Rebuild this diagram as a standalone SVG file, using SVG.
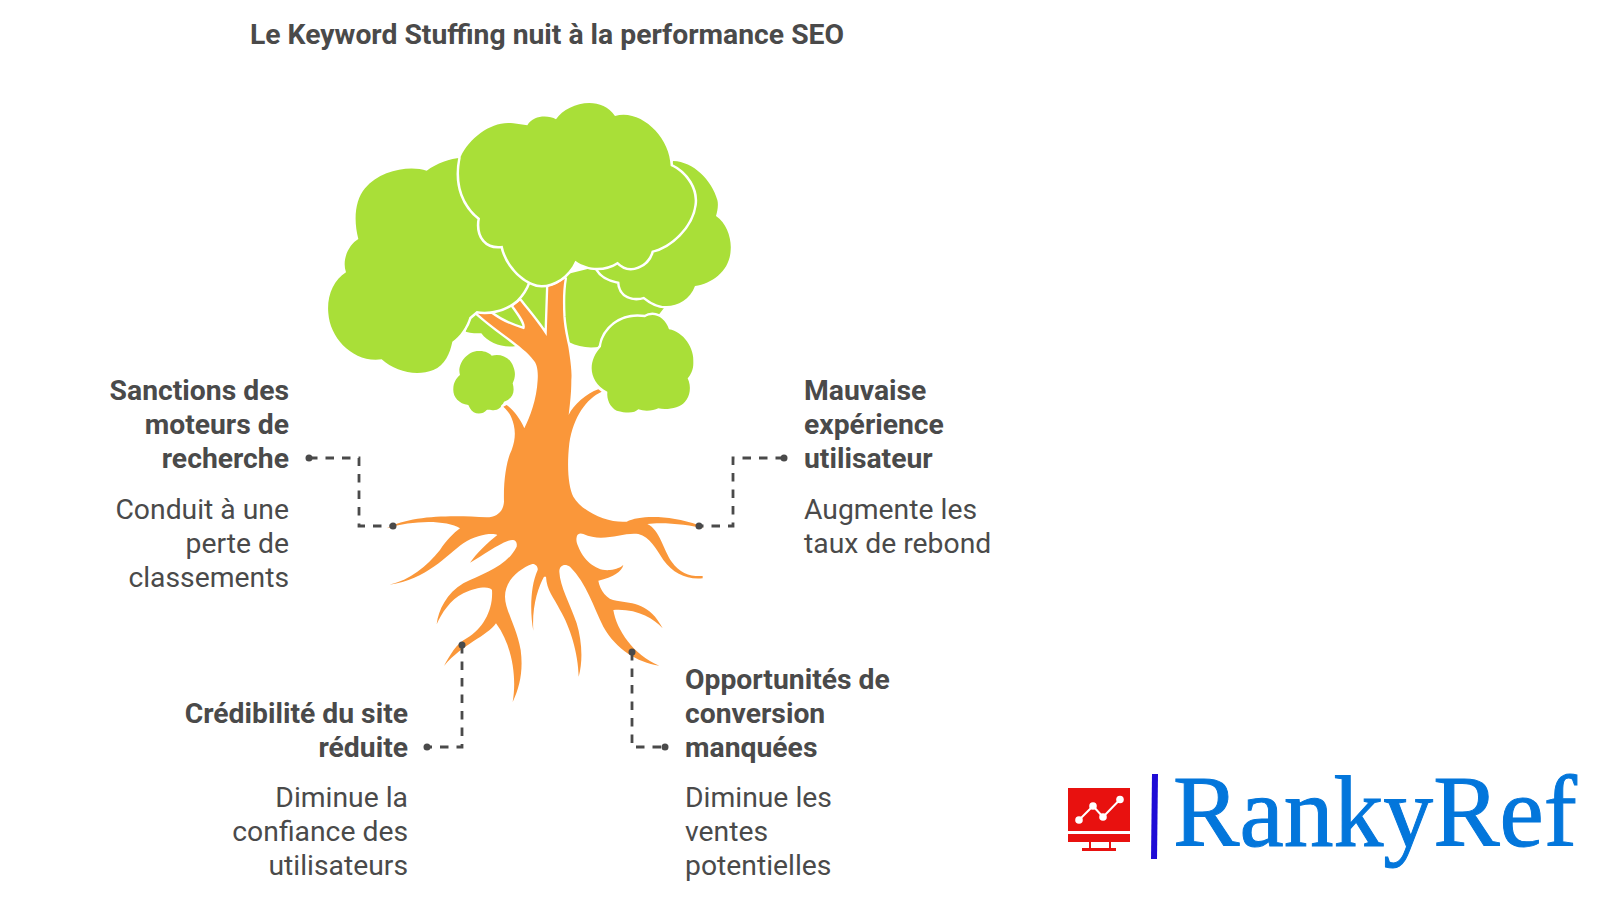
<svg xmlns="http://www.w3.org/2000/svg" width="1600" height="900" viewBox="0 0 1600 900">
<style>
text{font-family:Roboto,"Liberation Sans",sans-serif;fill:#4a4a4a}
.t{font-weight:700;font-size:28.300px}
.d{font-weight:400;font-size:28.300px}
.title{font-weight:700;font-size:28.300px}
.e{text-anchor:end}
.leaf{fill:#a9df38;stroke:#fff;stroke-width:15;paint-order:stroke;stroke-linejoin:round}
.c{fill:none;stroke:#4a4a4a;stroke-width:2.800;stroke-dasharray:8.500 8}
.dot{fill:#4a4a4a}
</style>
<rect width="1600" height="900" fill="#fff"/>
<text id="title" class="title" x="250" y="44">Le Keyword Stuffing nuit à la performance SEO</text>

<g id="tree">
<g id="canopy-back" transform="translate(300 90) scale(.33333)">
<path fill="#a9df38" d="M497,725 L510,680 L690,580 L890,530 L1095,650 L1078,672 L1000,680 L900,770 C870,775 835,772 808,757 L648,768 C610,775 565,760 544,730 C530,730 515,730 497,725 Z"/>
<path class="leaf" d="M540,783 C555,783 570,790 575,797 C600,790 630,800 640,830 C648,850 645,865 638,880 C645,905 640,925 612,935 C608,945 600,958 585,960 C572,962 565,958 560,960 C548,975 520,975 510,955 L505,945 C475,940 458,920 460,895 C460,880 468,865 480,855 C470,825 500,780 540,783 Z" style="stroke:none"/>
<path class="leaf" d="M903,770 C910,720 960,670 1035,682 C1060,665 1095,680 1107,718 C1150,725 1185,775 1180,820 C1180,840 1172,855 1163,865 C1175,890 1170,920 1155,935 C1140,955 1100,960 1075,955 C1060,962 1035,965 1015,958 C1005,968 985,972 950,962 C930,950 920,930 922,905 C890,890 875,860 875,835 C875,810 885,790 903,770 Z"/>
</g>
<g id="trunk" transform="translate(370 380) scale(.33333)">
<path id="trunk-shape" fill="#fa973a" stroke="#fff" stroke-width="14" paint-order="stroke" stroke-linejoin="round" d="M320,-202 L365,-198 C390,-180 420,-165 462,-152 C472,-165 450,-195 430,-222 L450,-238 C480,-200 510,-165 530,-132 L535,-280 L540,-282 C555,-285 570,-295 584,-304 C578,-270 578,-230 580,-190 C583,-150 590,-125 595,-100 C603,-50 606,-20 604,0 C604,40 600,70 596,105 C610,75 650,40 685,28 L695,35 C650,55 610,110 598,190 C590,260 595,320 610,350 C640,400 720,430 770,425 C810,405 900,405 985,435 L1000,445 C960,435 880,425 832,432 C870,450 880,510 905,545 C930,580 960,590 998,588 L998,595 C950,600 910,580 880,540 C860,510 840,470 805,462 C760,455 700,490 640,462 C630,458 620,462 620,472 C618,480 620,490 625,500 C640,540 680,575 720,570 C740,568 752,562 760,555 C755,575 730,592 685,602 C690,630 710,660 740,662 C790,670 840,670 878,745 C850,715 800,685 730,690 C740,750 790,825 868,857 C800,845 740,810 700,740 C670,680 650,610 600,560 C585,550 568,555 568,575 C570,620 600,670 620,730 C635,780 640,840 626,890 C625,820 600,740 570,690 C550,650 530,630 528,590 L522,590 C505,620 485,680 490,752 C480,700 480,620 503,570 C505,560 495,550 487,552 C450,565 405,600 405,650 C405,690 440,740 452,810 C460,870 450,920 428,966 C440,900 430,800 378,730 C350,770 280,790 222,858 C240,825 260,790 290,775 C340,745 370,690 366,630 C360,618 320,620 280,640 C240,660 215,700 200,733 C205,690 230,640 280,610 C340,580 410,560 440,500 C443,480 430,477 415,482 C380,495 340,525 300,548 C320,520 350,490 382,465 C370,458 320,462 280,490 C230,525 170,600 58,614 C120,600 170,560 210,510 C230,480 250,460 270,445 C230,420 130,420 50,445 C120,405 250,405 350,412 C380,412 400,395 402,365 C400,300 410,240 425,210 C440,170 435,140 425,115 C420,100 410,90 400,80 L410,75 C430,90 450,115 463,145 C480,110 500,60 503,0 C505,-30 500,-50 490,-60 C460,-100 390,-140 320,-202 Z"/>
</g>
<g id="canopy-front" transform="translate(300 90) scale(.33333)">
<path class="leaf" d="M484,203 C450,205 410,220 380,242 C330,225 240,240 195,295 C165,330 160,390 175,447 C145,465 125,510 138,547 C100,570 80,620 85,670 C90,745 160,820 245,808 C285,845 350,860 400,840 C435,825 450,790 457,755 C480,740 500,710 508,682 L530,663 C560,668 610,665 650,630 C665,615 678,595 685,575 L600,300 Z"/>
<path class="leaf" d="M1120,213 C1180,215 1235,270 1252,330 C1256,345 1252,365 1248,378 C1280,400 1295,445 1292,480 C1290,540 1240,580 1185,588 C1170,630 1130,650 1095,648 C1075,648 1050,635 1032,620 C1000,630 960,620 958,575 C930,570 905,560 893,538 L900,400 L1100,230 Z"/>
<path class="leaf" d="M482,200 C510,140 580,90 640,100 L682,106 C700,75 745,75 768,88 C800,40 900,12 945,78 C1020,55 1110,140 1112,228 C1160,250 1190,300 1183,345 C1175,410 1110,470 1055,482 C1045,525 990,555 953,515 C915,540 865,540 826,512 C805,560 760,585 725,585 C680,585 620,530 608,467 C560,475 530,440 540,385 C495,350 465,290 482,205 Z"/>
</g>
</g>

<g id="connectors">
<path class="c" d="M309,458 H359 V526 H393"/>
<path class="c" d="M784,458 H733 V526 H699"/>
<path class="c" d="M462,645 V747 H427"/>
<path class="c" d="M632,652 V747 H665"/>
<circle class="dot" cx="309" cy="458" r="3.500"/><circle class="dot" cx="393" cy="526" r="3.500"/>
<circle class="dot" cx="784" cy="458" r="3.500"/><circle class="dot" cx="699" cy="526" r="3.500"/>
<circle class="dot" cx="462" cy="645" r="3.500"/><circle class="dot" cx="427" cy="747" r="3.500"/>
<circle class="dot" cx="632" cy="652" r="3.500"/><circle class="dot" cx="665" cy="747" r="3.500"/>
</g>

<g id="node-sanctions">
<text class="t e" x="289" y="400">Sanctions des</text>
<text class="t e" x="289" y="434">moteurs de</text>
<text class="t e" x="289" y="468">recherche</text>
<text class="d e" x="289" y="519">Conduit à une</text>
<text class="d e" x="289" y="553">perte de</text>
<text class="d e" x="289" y="587">classements</text>
</g>
<g id="node-experience">
<text class="t" x="804" y="400">Mauvaise</text>
<text class="t" x="804" y="434">expérience</text>
<text class="t" x="804" y="468">utilisateur</text>
<text class="d" x="804" y="519">Augmente les</text>
<text class="d" x="804" y="553">taux de rebond</text>
</g>
<g id="node-credibilite">
<text class="t e" x="408" y="723">Crédibilité du site</text>
<text class="t e" x="408" y="757">réduite</text>
<text class="d e" x="408" y="807">Diminue la</text>
<text class="d e" x="408" y="841">confiance des</text>
<text class="d e" x="408" y="875">utilisateurs</text>
</g>
<g id="node-conversion">
<text class="t" x="685" y="689">Opportunités de</text>
<text class="t" x="685" y="723">conversion</text>
<text class="t" x="685" y="757">manquées</text>
<text class="d" x="685" y="807">Diminue les</text>
<text class="d" x="685" y="841">ventes</text>
<text class="d" x="685" y="875">potentielles</text>
</g>

<g id="logo">
<rect x="1068" y="788" width="62" height="43" fill="#e8110f"/>
<rect x="1068" y="834" width="62" height="8" fill="#e8110f"/>
<path d="M1089,842 h2 v6 h-2z M1109,842 h2 v6 h-2z M1082,848 h34 v3 h-34z" fill="#e8110f"/>
<path d="M1079,820 L1093,806 L1103,817 L1120,799.500" fill="none" stroke="#fff" stroke-width="2"/>
<circle cx="1079" cy="820" r="3.800" fill="#fff"/><circle cx="1093" cy="806" r="3.800" fill="#fff"/><circle cx="1103" cy="817" r="3.800" fill="#fff"/><circle cx="1120" cy="799.500" r="3.800" fill="#fff"/>
<path d="M1152,774 H1158 L1157,859 H1151 Z" fill="#1f0bd6"/>
<text x="1173" y="846" font-size="102" textLength="404" lengthAdjust="spacingAndGlyphs" style="font-family:'Liberation Serif',serif;fill:#0376db;stroke:#0376db;stroke-width:1">RankyRef</text>
</g>
</svg>
